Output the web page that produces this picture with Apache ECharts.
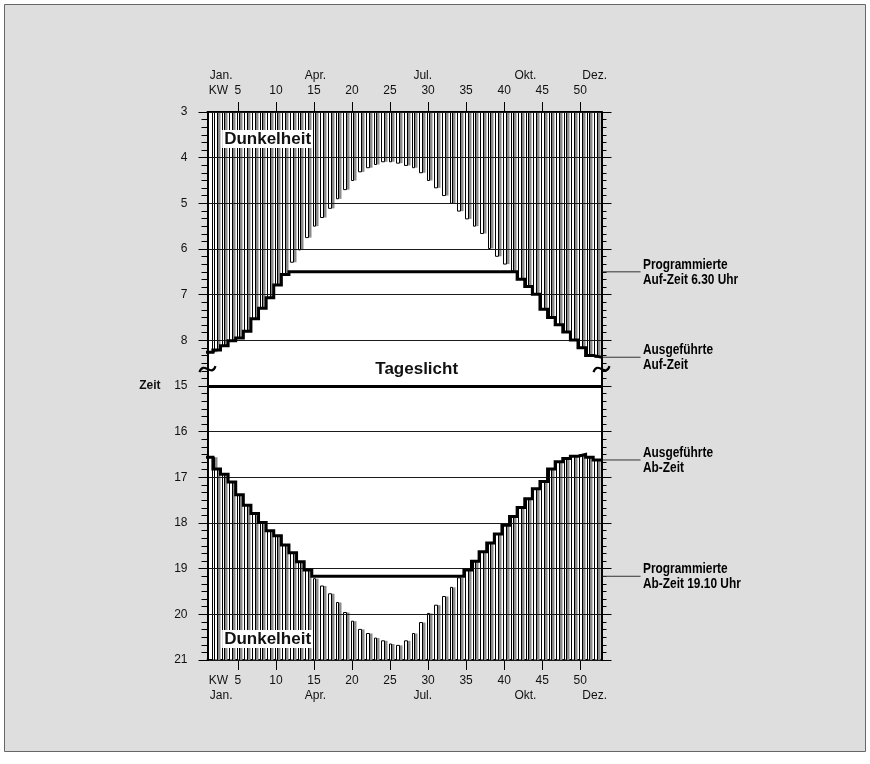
<!DOCTYPE html>
<html>
<head>
<meta charset="utf-8">
<script src="https://cdn.jsdelivr.net/npm/echarts@6/dist/echarts.min.js"></script>
<style>
  html, body { margin: 0; padding: 0; background: #ffffff; }
  #chart { width: 870px; height: 764px; }
</style>
</head>
<body>
<div id="chart"></div>
<script>
// Kalenderwochen 1..52
const weeks = [1,2,3,4,5,6,7,8,9,10,11,12,13,14,15,16,17,18,19,20,21,22,23,24,25,26,
  27,28,29,30,31,32,33,34,35,36,37,38,39,40,41,42,43,44,45,46,47,48,49,50,51,52];

// Sonnenaufgang je Woche (Stunden, dezimal)
const sunrise = [8.26,8.21,8.12,8.01,7.95,7.80,7.53,7.30,7.07,6.79,6.56,6.29,6.02,
  5.75,5.50,5.31,5.11,4.90,4.70,4.50,4.31,4.22,4.15,4.09,4.09,4.12,4.17,4.22,4.33,
  4.50,4.66,4.83,5.00,5.17,5.34,5.50,5.66,5.99,6.16,6.33,6.48,6.66,6.82,6.99,7.32,
  7.50,7.66,7.82,7.99,8.16,8.33,8.37];

// Sonnenuntergang je Woche (Stunden, dezimal)
const sunset = [16.56,16.82,16.93,17.10,17.38,17.61,17.79,17.99,18.17,18.28,18.48,
  18.65,18.85,19.03,19.22,19.38,19.55,19.74,19.96,20.15,20.33,20.42,20.52,20.58,
  20.65,20.68,20.58,20.42,20.18,19.98,19.80,19.61,19.41,19.20,19.03,18.84,18.63,
  18.44,18.24,18.05,17.86,17.66,17.47,17.25,17.09,16.82,16.66,16.59,16.54,16.50,
  16.56,16.62];

// Programmierte Schaltzeiten
const programmedOn = 6 + 30 / 60;   // 6.30 Uhr
const programmedOff = 19 + 10 / 60; // 19.10 Uhr

// Achsenbeschriftungen
const weekTicks = [5,10,15,20,25,30,35,40,45,50];
const kwLabelPos = 2.42;
const monthNames = ['Jan.','Apr.','Jul.','Okt.','Dez.'];
const monthPos = [2.8, 15.2, 29.3, 42.8, 51.9];
const hourLabels = ['3','4','5','6','7','8','15','16','17','18','19','20','21'];

// Die Zeitachse ist zwischen Morgen und Nachmittag unterbrochen:
// Nachmittagsstunden werden um 6 Stunden nach oben verschoben.
const EVENING_SHIFT = 6;
const toAxis = t => (t >= 12 ? t - EVENING_SHIFT : t);

const X_MIN = 1, X_MAX = 52.8;
const Y_MIN = 3, Y_MAX = 15;
const WEEK_LEAD = 0.29; // Anteil der Woche links vom Wochenwert

const FONT = "'Liberation Sans', Arial, Helvetica, sans-serif";

const executedOn = sunrise.map(v => Math.max(v, programmedOn));
const executedOff = sunset.map(v => Math.min(v, programmedOff));

function weekSpan(w) {
  return [Math.max(w - WEEK_LEAD, X_MIN), Math.min(w + 1 - WEEK_LEAD, X_MAX)];
}

function stepPoints(values) {
  const pts = values.map((v, i) => [i === 0 ? X_MIN : weeks[i] - WEEK_LEAD, toAxis(v)]);
  pts.push([X_MAX, toAxis(values[values.length - 1])]);
  return pts;
}

// Dunkelheitsbalken: weiß mit schwarzem Rand und grauem Schatten
function renderBar(params, api) {
  const w = api.value(0);
  const span = weekSpan(w);
  const pA = api.coord([span[0], api.value(1)]);
  const pB = api.coord([span[1], api.value(2)]);
  const x0 = Math.round(pA[0]) + 0.5 + (w === 1 ? 4 : 1);
  const x1 = Math.round(pB[0]) - 0.5;
  const y0 = pA[1], y1 = pB[1];
  const barW = Math.max(x1 - x0 - 3, 2);
  return {
    type: 'group',
    children: [
      { type: 'rect', shape: { x: x0 + barW, y: y0, width: 3, height: y1 - y0 },
        style: { fill: '#8a8a8a', stroke: null } },
      { type: 'rect', shape: { x: x0, y: y0, width: barW, height: y1 - y0 },
        style: { fill: '#ffffff', stroke: '#000000', lineWidth: 1 } }
    ]
  };
}

const morningBars = weeks.map((w, i) => [w, Y_MIN, toAxis(sunrise[i])]);
const eveningBars = weeks.map((w, i) => [w, toAxis(sunset[i]), Y_MAX]);

const xAxisBase = {
  type: 'value', min: X_MIN, max: X_MAX,
  splitLine: { show: false }
};
const weekAxis = pos => Object.assign({}, xAxisBase, {
  position: pos,
  axisLine: { show: true, onZero: false, lineStyle: { color: '#000', width: 2 } },
  axisTick: { show: true, customValues: weekTicks, length: 10, lineStyle: { color: '#000', width: 1 } },
  axisLabel: {
    customValues: [kwLabelPos].concat(weekTicks),
    formatter: v => (Math.abs(v - kwLabelPos) < 0.01 ? 'KW' : String(v)),
    margin: 15, fontSize: 12, color: '#111', fontFamily: FONT
  }
});
const monthAxis = pos => Object.assign({}, xAxisBase, {
  position: pos,
  axisLine: { show: false },
  axisTick: { show: false },
  axisLabel: {
    customValues: monthPos,
    formatter: v => {
      let best = 0;
      monthPos.forEach((p, i) => { if (Math.abs(p - v) < Math.abs(monthPos[best] - v)) best = i; });
      return monthNames[best];
    },
    margin: 30, fontSize: 12, color: '#111', fontFamily: FONT
  }
});

const option = {
  backgroundColor: '#ffffff',
  animation: false,
  grid: {
    left: 207.5, top: 112, width: 394, height: 548,
    show: true, backgroundColor: '#ffffff', borderWidth: 0
  },
  xAxis: [weekAxis('bottom'), weekAxis('top'), monthAxis('bottom'), monthAxis('top')],
  yAxis: [
    {
      type: 'value', inverse: true, min: Y_MIN, max: Y_MAX, interval: 1,
      position: 'left', z: 5,
      axisLine: { show: true, onZero: false, lineStyle: { color: '#000', width: 2 } },
      axisTick: { show: true, length: 9, lineStyle: { color: '#000', width: 1 } },
      minorTick: { show: true, splitNumber: 6, length: 6, lineStyle: { color: '#000', width: 1 } },
      splitLine: { show: true, lineStyle: { color: '#1a1a1a', width: 1 } },
      axisLabel: {
        formatter: v => hourLabels[Math.round(v) - Y_MIN],
        margin: 20, fontSize: 12, color: '#111', fontFamily: FONT
      }
    },
    {
      type: 'value', inverse: true, min: Y_MIN, max: Y_MAX, interval: 1,
      position: 'right', z: 5,
      axisLine: { show: true, onZero: false, lineStyle: { color: '#000', width: 2 } },
      axisTick: { show: true, length: 10, lineStyle: { color: '#000', width: 1 } },
      minorTick: { show: true, splitNumber: 6, length: 5, lineStyle: { color: '#000', width: 1 } },
      splitLine: { show: false },
      axisLabel: { show: false }
    }
  ],
  series: [
    {
      name: 'Dunkelheit morgens', type: 'custom', renderItem: renderBar,
      xAxisIndex: 0, yAxisIndex: 0, data: morningBars, z: 2, silent: true,
      encode: { x: 0, y: [1, 2] }
    },
    {
      name: 'Dunkelheit abends', type: 'custom', renderItem: renderBar,
      xAxisIndex: 0, yAxisIndex: 0, data: eveningBars, z: 2, silent: true,
      encode: { x: 0, y: [1, 2] }
    },
    {
      name: 'Ausgeführte Auf-Zeit', type: 'line', step: 'end',
      xAxisIndex: 0, yAxisIndex: 0, data: stepPoints(executedOn),
      symbol: 'none', z: 8, silent: true,
      lineStyle: { color: '#000', width: 3, cap: 'square', join: 'miter' },
      markLine: {
        silent: true, symbol: 'none', label: { show: false },
        lineStyle: { color: '#000', width: 3, type: 'solid' },
        data: [{ yAxis: toAxis(15) }]
      }
    },
    {
      name: 'Ausgeführte Ab-Zeit', type: 'line', step: 'end',
      xAxisIndex: 0, yAxisIndex: 0, data: stepPoints(executedOff),
      symbol: 'none', z: 8, silent: true,
      lineStyle: { color: '#000', width: 3, cap: 'square', join: 'miter' }
    }
  ]
};

const chart = echarts.init(document.getElementById('chart'), null, { renderer: 'canvas' });
chart.setOption(option);

const px = (x, y) => chart.convertToPixel({ xAxisIndex: 0, yAxisIndex: 0 }, [x, y]);

function breakMark(x, y) {
  return {
    type: 'bezierCurve', z: 20,
    shape: { x1: x - 8, y1: y + 3, x2: x + 8, y2: y - 3, cpx1: x - 4, cpy1: y - 9, cpx2: x + 4, cpy2: y + 9 },
    style: { stroke: '#000', lineWidth: 2.2, fill: null }
  };
}

// Erläuterung rechts neben der Achse mit Hinweislinie
function note(lines, yVal) {
  const pRight = px(X_MAX, yVal);
  const y = pRight[1];
  return [
    { type: 'line', z: 20, shape: { x1: pRight[0] + 1, y1: y, x2: pRight[0] + 39, y2: y },
      style: { stroke: '#333', lineWidth: 1 } },
    { type: 'text', z: 20, x: pRight[0] + 41.5, y: y + 0.5, scaleX: 0.82,
      style: { text: lines.join('\n'), fill: '#000', fontSize: 14.5, fontWeight: 'bold',
        fontFamily: FONT, lineHeight: 15, verticalAlign: 'middle', align: 'left' } }
  ];
}

const breakY = px(X_MIN, 8.63)[1];
const pLeft = px(X_MIN, 8.63)[0];
const pRightEdge = px(X_MAX, 8.63)[0];
const pDunkelTop = px(8.9, 3.59);
const pDunkelBottom = px(8.9, 14.54);
const pTages = px(28.5, 8.63);
const pZeit = px(X_MIN, toAxis(15));

const darkLabel = p => ({
  type: 'text', z: 20, x: p[0], y: p[1],
  style: { text: 'Dunkelheit', fill: '#111', fontSize: 17, fontWeight: 'bold', fontFamily: FONT,
    align: 'center', verticalAlign: 'middle', backgroundColor: '#ffffff', padding: [1, 2, 0, 2] }
});

chart.setOption({
  graphic: [
    { type: 'rect', z: -100, shape: { x: 4.5, y: 4.5, width: 861, height: 747 },
      style: { fill: '#dedede', stroke: '#666', lineWidth: 1 } },
    darkLabel(pDunkelTop),
    darkLabel(pDunkelBottom),
    { type: 'text', z: 20, x: pTages[0], y: pTages[1],
      style: { text: 'Tageslicht', fill: '#111', fontSize: 17, fontWeight: 'bold', fontFamily: FONT,
        align: 'center', verticalAlign: 'middle' } },
    { type: 'text', z: 20, x: pZeit[0] - 47, y: pZeit[1],
      style: { text: 'Zeit', fill: '#111', fontSize: 12, fontWeight: 'bold', fontFamily: FONT,
        align: 'right', verticalAlign: 'middle' } },
    breakMark(pLeft, breakY),
    breakMark(pRightEdge, breakY),
    ...note(['Programmierte', 'Auf-Zeit 6.30 Uhr'], programmedOn),
    ...note(['Ausgeführte', 'Auf-Zeit'], executedOn[executedOn.length - 1]),
    ...note(['Ausgeführte', 'Ab-Zeit'], toAxis(executedOff[executedOff.length - 1])),
    ...note(['Programmierte', 'Ab-Zeit 19.10 Uhr'], toAxis(programmedOff))
  ]
});
</script>
</body>
</html>
